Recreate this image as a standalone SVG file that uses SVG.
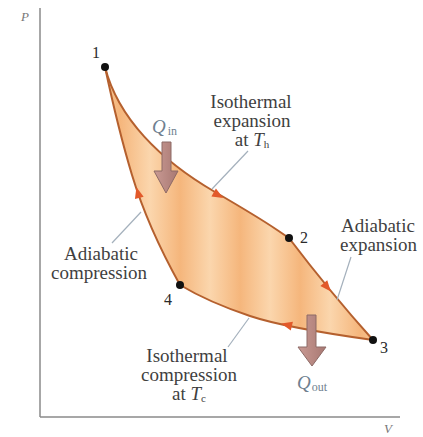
<svg xmlns="http://www.w3.org/2000/svg" width="423" height="437" viewBox="0 0 423 437">
<style>
.lbl{font-family:"Liberation Serif",serif;font-size:19px;fill:#3f3f3f;text-anchor:middle}
.num{font-family:"Liberation Serif",serif;font-size:16px;fill:#2a2a2a}
.ax{font-family:"Liberation Serif",serif;font-style:italic;font-size:13px;fill:#777}
.q{font-family:"Liberation Serif",serif;font-style:italic;font-size:19px;fill:#6f7f90}
.qs{font-family:"Liberation Serif",serif;font-size:12px;fill:#6f7f90;font-style:normal}
.edge{fill:none;stroke:#b5602e;stroke-width:2}
.ptr{fill:none;stroke:#a4b0bc;stroke-width:1.2}
.ah{fill:#e2592a}
.dot{fill:#111}
.qa{fill:url(#qg);stroke:#8d6a66;stroke-width:1}
</style>
<defs>
<linearGradient id="stripe" x1="0" y1="0" x2="30" y2="0" gradientUnits="userSpaceOnUse" spreadMethod="reflect">
<stop offset="0" stop-color="#f5b67c"/>
<stop offset="1" stop-color="#fbd6ad"/>
</linearGradient>
<linearGradient id="qg" x1="0" y1="0" x2="1" y2="0">
<stop offset="0" stop-color="#c99a94"/>
<stop offset="1" stop-color="#a87872"/>
</linearGradient>
<path id="head" d="M6,0 L-5,-4.5 L-5,4.5 Z"/>
</defs>
<rect width="423" height="437" fill="#fff"/>
<g id="axes">
<line x1="40" y1="8" x2="40" y2="417" stroke="#8a8a8a" stroke-width="1.5"/>
<line x1="40" y1="417" x2="400" y2="417" stroke="#8a8a8a" stroke-width="1.5"/>
<text class="ax" x="21" y="21">P</text>
<text class="ax" x="384" y="433">V</text>
</g>
<g id="cycle-area">
<path d="M105,67 C118,118 160,160 215,192 S265,222 289,238 Q330,292 373,340 C330,334 280,326 250,316 S200,297 180,285 C165,258 145,218 132,175 S112,100 105,67 Z" fill="url(#stripe)"/>
</g>
<g id="connectors">
<path class="edge" d="M105,67 C118,118 160,160 215,192 S265,222 289,238"/>
<path class="edge" d="M289,238 Q330,292 373,340"/>
<path class="edge" d="M373,340 C330,334 280,326 250,316 S200,297 180,285"/>
<path class="edge" d="M180,285 C165,258 145,218 132,175 S112,100 105,67"/>
<use href="#head" class="ah" transform="translate(218,195) rotate(30)"/>
<use href="#head" class="ah" transform="translate(327,287) rotate(50)"/>
<use href="#head" class="ah" transform="translate(287,325) rotate(194)"/>
<use href="#head" class="ah" transform="translate(138,193) rotate(255)"/>
<line class="ptr" x1="248" y1="151" x2="212" y2="189"/>
<line class="ptr" x1="351" y1="257" x2="337" y2="300"/>
<line class="ptr" x1="112" y1="243" x2="141" y2="212"/>
<line class="ptr" x1="228" y1="347" x2="249" y2="318"/>
</g>
<g id="state-1"><circle class="dot" cx="105" cy="67" r="4"/><text class="num" x="92" y="58">1</text></g>
<g id="state-2"><circle class="dot" cx="289" cy="238" r="4"/><text class="num" x="300" y="243">2</text></g>
<g id="state-3"><circle class="dot" cx="373" cy="340" r="4"/><text class="num" x="380" y="353">3</text></g>
<g id="state-4"><circle class="dot" cx="180" cy="285" r="4"/><text class="num" x="164" y="305">4</text></g>
<g id="q-in">
<path class="qa" d="M162,142 H171 V171 H178 L166,193 L154,171 H162 Z"/>
<text class="q" x="152" y="133">Q<tspan class="qs" dx="2" dy="2">in</tspan></text>
</g>
<g id="q-out">
<path class="qa" d="M307,315 H316 V347 H326 L312,366 L298,347 H307 Z"/>
<text class="q" x="297" y="389">Q<tspan class="qs" dx="1" dy="2">out</tspan></text>
</g>
<g id="label-isothermal-expansion">
<text class="lbl" x="251" y="108">Isothermal</text>
<text class="lbl" x="252" y="127">expansion</text>
<text class="lbl" x="252" y="146">at <tspan font-style="italic">T</tspan><tspan font-size="11" dy="2">h</tspan></text>
</g>
<g id="label-adiabatic-expansion">
<text class="lbl" x="341" y="232" style="text-anchor:start">Adiabatic</text>
<text class="lbl" x="340" y="251" style="text-anchor:start">expansion</text>
</g>
<g id="label-adiabatic-compression">
<text class="lbl" x="101" y="260">Adiabatic</text>
<text class="lbl" x="99" y="279">compression</text>
</g>
<g id="label-isothermal-compression">
<text class="lbl" x="187" y="362">Isothermal</text>
<text class="lbl" x="189" y="381">compression</text>
<text class="lbl" x="189" y="400">at <tspan font-style="italic">T</tspan><tspan font-size="11" dy="2">c</tspan></text>
</g>
</svg>
